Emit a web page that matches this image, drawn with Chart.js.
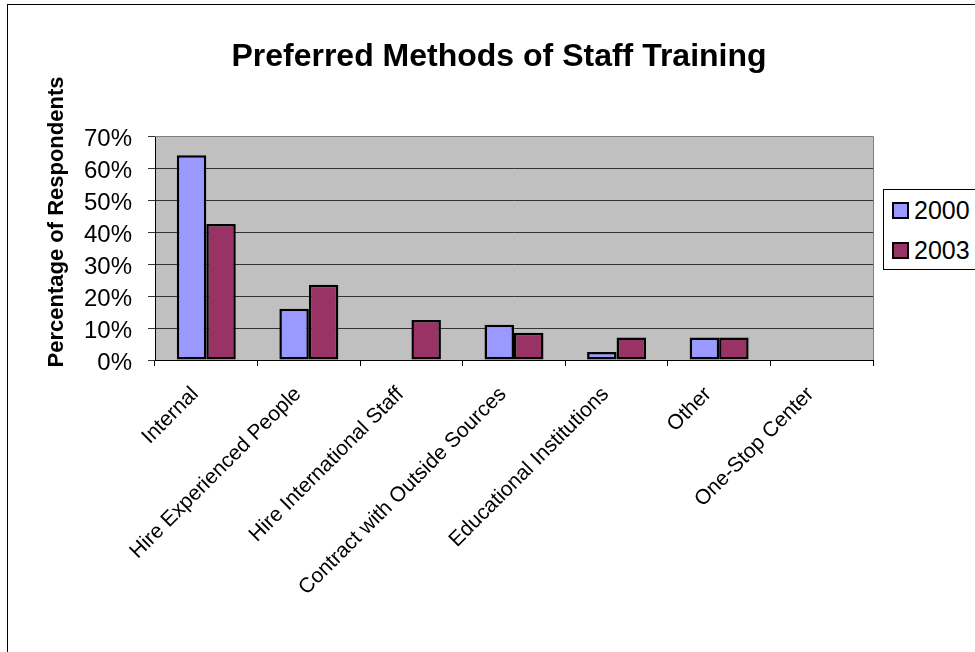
<!DOCTYPE html>
<html>
<head>
<meta charset="utf-8">
<script src="https://cdn.jsdelivr.net/npm/chart.js@4/dist/chart.umd.min.js"></script>
<style>
  html, body { margin: 0; padding: 0; background: #fff; }
  #wrap { position: relative; width: 975px; height: 652px; overflow: hidden; font-family: "Liberation Sans", Arial, sans-serif; }
  #frame { position: absolute; left: 7px; top: 4px; width: 1200px; height: 1200px; border-left: 1px solid #000; border-top: 1px solid #000; }
  canvas { position: absolute; left: 0; top: 0; }
  #legend { position: absolute; left: 883px; top: 189px; width: 100px; height: 81px; border: 1px solid #000; background: #fff; box-sizing: border-box; }
  .item { position: absolute; left: 8px; height: 28px; display: flex; align-items: center; font-size: 25px; color: #000; white-space: nowrap; }
  .sw { width: 13px; height: 13px; border: 2px solid #000; margin-right: 5px; }
</style>
</head>
<body>
<div id="wrap">
  <div id="frame"></div>
  <canvas id="c" width="975" height="652"></canvas>
  <div id="legend"></div>
</div>
<script>
const categories = ["Internal", "Hire Experienced People", "Hire International Staff", "Contract with Outside Sources", "Educational Institutions", "Other", "One-Stop Center"];
const seriesNames = ["2000", "2003"];
const values2000 = [64, 16, 0, 11, 2.5, 7, 0];
const values2003 = [42.5, 23.5, 12.5, 8.5, 7, 7, 0];
const seriesColors = ["#9999FF", "#993366"];
const yTicks = [0, 10, 20, 30, 40, 50, 60, 70];
const chartTitle = "Preferred Methods of Staff Training";
const yTitle = "Percentage of Respondents";

const plotBg = {
  id: 'plotBg',
  beforeDraw(chart) {
    const {ctx, chartArea: a} = chart;
    ctx.save();
    ctx.fillStyle = '#C0C0C0';
    ctx.fillRect(a.left, a.top, a.right - a.left, a.bottom - a.top);
    ctx.restore();
  },
  afterDatasetsDraw(chart) {
    const {ctx, chartArea: a} = chart;
    ctx.save();
    ctx.strokeStyle = '#808080';
    ctx.lineWidth = 1;
    ctx.beginPath();
    ctx.moveTo(a.left, a.top + 0.5);
    ctx.lineTo(a.right + 0.5, a.top + 0.5);
    ctx.lineTo(a.right + 0.5, a.bottom);
    ctx.stroke();
    ctx.restore();
  }
};

const textPlugin = {
  id: 'texts',
  afterDraw(chart) {
    const {ctx} = chart;
    ctx.save();
    ctx.fillStyle = '#000';
    ctx.textAlign = 'center';
    ctx.textBaseline = 'middle';
    ctx.font = 'bold 32px "Liberation Sans", Arial, sans-serif';
    ctx.fillText(chartTitle, 499, 57);
    ctx.translate(57, 222);
    ctx.rotate(-Math.PI / 2);
    ctx.font = 'bold 22px "Liberation Sans", Arial, sans-serif';
    ctx.fillText(yTitle, 0, 0);
    ctx.restore();
  }
};

const chart = new Chart(document.getElementById('c'), {
  type: 'bar',
  data: {
    labels: categories,
    datasets: [
      { label: seriesNames[0], data: values2000, backgroundColor: seriesColors[0], borderColor: '#000', borderWidth: 2.5, borderSkipped: false },
      { label: seriesNames[1], data: values2003, backgroundColor: seriesColors[1], borderColor: '#000', borderWidth: 2.5, borderSkipped: false }
    ]
  },
  options: {
    responsive: false,
    animation: false,
    devicePixelRatio: 1,
    layout: { padding: { left: 0, right: 102, top: 136, bottom: 0 } },
    datasets: { bar: { categoryPercentage: 0.575, barPercentage: 1.0 } },
    plugins: {
      legend: { display: false },
      tooltip: { enabled: false },
      title: { display: false }
    },
    scales: {
      x: {
        offset: true,
        grid: { offset: true, drawOnChartArea: false, drawTicks: true, tickLength: 6, color: '#000' },
        border: { display: true, color: '#000', width: 1 },
        ticks: {
          color: '#000',
          font: { family: '"Liberation Sans", Arial, sans-serif', size: 21 },
          minRotation: 45, maxRotation: 45, autoSkip: false, padding: 16, labelOffset: -11
        },
        afterFit(scale) { scale.height = 292; }
      },
      y: {
        min: 0, max: 70,
        afterBuildTicks(scale) { scale.ticks = yTicks.map(v => ({ value: v })); },
        grid: { color: '#333', lineWidth: 1, drawTicks: true, tickLength: 7 },
        border: { display: true, color: '#000', width: 1 },
        ticks: {
          color: '#000',
          font: { family: '"Liberation Sans", Arial, sans-serif', size: 24 },
          padding: 16,
          labelOffset: 3,
          callback: (v) => v + '%'
        },
        afterFit(scale) { scale.width = 155; }
      }
    }
  },
  plugins: [plotBg, textPlugin]
});

const legend = document.getElementById('legend');
chart.data.datasets.forEach((ds, i) => {
  const it = document.createElement('div');
  it.className = 'item';
  it.style.top = (6 + i * 40) + 'px';
  const sw = document.createElement('div');
  sw.className = 'sw';
  sw.style.background = ds.backgroundColor;
  const tx = document.createElement('span');
  tx.textContent = ds.label;
  it.appendChild(sw);
  it.appendChild(tx);
  legend.appendChild(it);
});
</script>
</body>
</html>
